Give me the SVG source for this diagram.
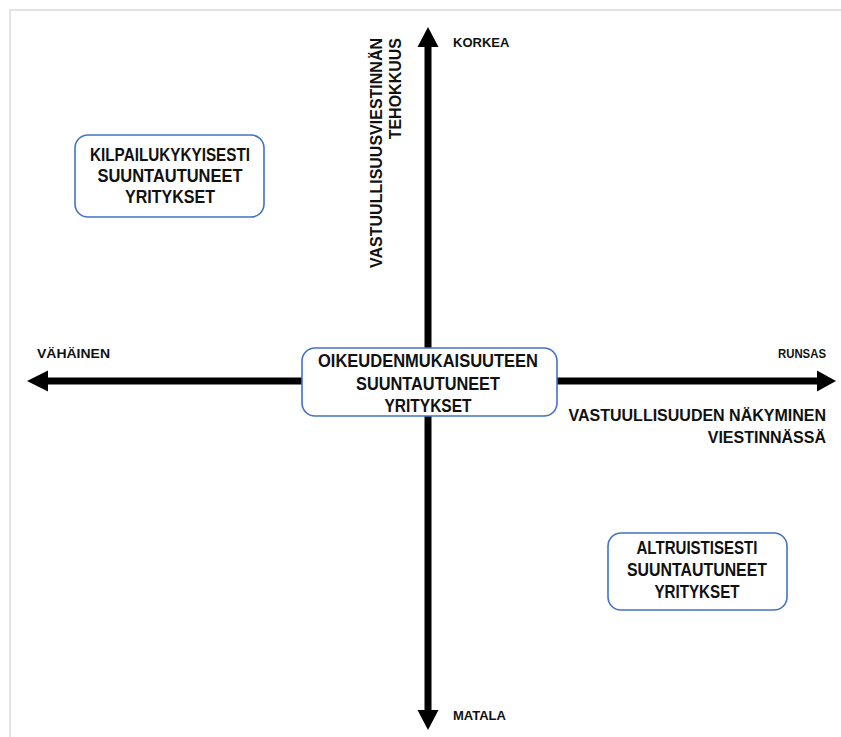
<svg xmlns="http://www.w3.org/2000/svg" width="841" height="737" viewBox="0 0 841 737">
<style>
.frame{fill:none;stroke:#e2e2e2;stroke-width:2}
.shaft{stroke:#000;stroke-width:7;fill:none}
.head{fill:#000}
.box{fill:#fff;stroke:#4472c4;stroke-width:1.6}
.bt{font-family:"Liberation Sans",Arial,sans-serif;font-weight:bold;font-size:18px;fill:#111;text-anchor:middle}
.lbl{font-family:"Liberation Sans",Arial,sans-serif;font-weight:bold;font-size:13px;fill:#111}
.ax{font-family:"Liberation Sans",Arial,sans-serif;font-weight:bold;font-size:16px;fill:#111}
</style>
<rect width="841" height="737" fill="#fff"/>
<rect class="frame" x="10" y="10" width="900" height="800"/>
<g id="connectors">
  <line class="shaft" x1="428" y1="45" x2="428" y2="712"/>
  <polygon class="head" points="417.5,47 428,27 438.5,47"/>
  <polygon class="head" points="417.5,710 428,730 438.5,710"/>
  <line class="shaft" x1="46" y1="381" x2="819" y2="381"/>
  <polygon class="head" points="48,370.5 27,381 48,391.5"/>
  <polygon class="head" points="817,370.5 836,381 817,391.5"/>
</g>
<g id="label-korkea"><text class="lbl" x="453" y="47">KORKEA</text></g>
<g id="label-matala"><text class="lbl" x="453" y="720">MATALA</text></g>
<g id="label-vahainen"><text class="lbl" x="37" y="358" textLength="73" lengthAdjust="spacingAndGlyphs">VÄHÄINEN</text></g>
<g id="label-runsas"><text class="lbl" x="826" y="358" text-anchor="end" font-size="12" textLength="48" lengthAdjust="spacingAndGlyphs">RUNSAS</text></g>
<g id="label-x-axis">
  <text class="ax" x="826" y="421" text-anchor="end">VASTUULLISUUDEN NÄKYMINEN</text>
  <text class="ax" x="826" y="443" text-anchor="end">VIESTINNÄSSÄ</text>
</g>
<g id="label-y-axis" transform="rotate(-90)">
  <text class="ax" x="-38" y="382" text-anchor="end" font-size="17">VASTUULLISUUSVIESTINNÄN</text>
  <text class="ax" x="-38" y="401" text-anchor="end" font-size="17">TEHOKKUUS</text>
</g>
<g id="node-kilpailukykyisesti">
  <rect class="box" x="75" y="135" width="189" height="82" rx="13"/>
  <text class="bt" x="170" y="161" textLength="160" lengthAdjust="spacingAndGlyphs">KILPAILUKYKYISESTI</text>
  <text class="bt" x="170" y="182" textLength="145" lengthAdjust="spacingAndGlyphs">SUUNTAUTUNEET</text>
  <text class="bt" x="170" y="203" textLength="90" lengthAdjust="spacingAndGlyphs">YRITYKSET</text>
</g>
<g id="node-oikeudenmukaisuuteen">
  <rect class="box" x="302" y="348" width="255" height="68" rx="13"/>
  <text class="bt" x="428" y="367" textLength="220" lengthAdjust="spacingAndGlyphs">OIKEUDENMUKAISUUTEEN</text>
  <text class="bt" x="428" y="389.5" textLength="144" lengthAdjust="spacingAndGlyphs">SUUNTAUTUNEET</text>
  <text class="bt" x="428" y="412" textLength="87" lengthAdjust="spacingAndGlyphs">YRITYKSET</text>
</g>
<g id="node-altruistisesti">
  <rect class="box" x="608" y="533" width="179" height="77" rx="13"/>
  <text class="bt" x="697" y="554" textLength="121" lengthAdjust="spacingAndGlyphs">ALTRUISTISESTI</text>
  <text class="bt" x="697" y="576" textLength="140" lengthAdjust="spacingAndGlyphs">SUUNTAUTUNEET</text>
  <text class="bt" x="697" y="598" textLength="85" lengthAdjust="spacingAndGlyphs">YRITYKSET</text>
</g>
</svg>
